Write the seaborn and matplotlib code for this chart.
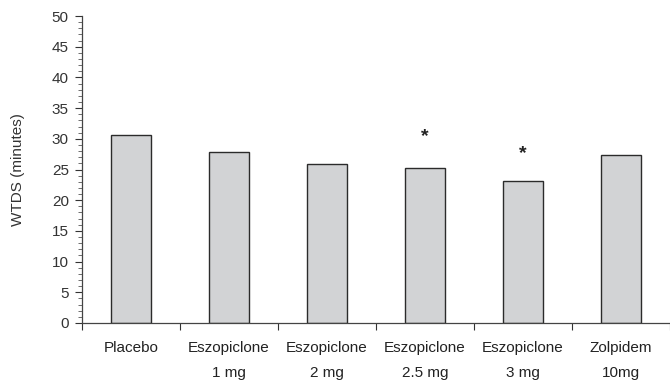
import numpy as np
import pandas as pd
import seaborn as sns
import matplotlib.pyplot as plt
from matplotlib.ticker import MultipleLocator

groups = ["Placebo\n", "Eszopiclone\n1 mg", "Eszopiclone\n2 mg", "Eszopiclone\n2.5 mg",
          "Eszopiclone\n3 mg", "Zolpidem\n10mg"]
wtds = [30.7, 27.9, 25.9, 25.2, 23.2, 27.3]
# asterisk marks (group index, height)
star_idx = [3, 4]
star_y = [30.3, 27.6]

sns.set_style("ticks")
plt.rcParams['font.family'] = ['Liberation Sans', 'DejaVu Sans']

df = pd.DataFrame({"group": groups, "wtds": wtds})

fig = plt.figure(figsize=(6.7, 3.85), dpi=100)
ax = fig.add_axes([82 / 670, 62 / 385, 588 / 670, 307 / 385])

sns.barplot(data=df, x="group", y="wtds", color="#d2d3d5", edgecolor="#2b2b2b",
            linewidth=1.0, width=0.41, saturation=1, ax=ax)

for i, y in zip(star_idx, star_y):
    ax.text(i, y, "*", ha="center", va="center", fontsize=14, fontweight="bold",
            color="#222222")

ax.set_ylim(0, 50)
ax.set_xlim(-0.5, 5.5)
ax.yaxis.set_major_locator(MultipleLocator(5))
ax.yaxis.set_minor_locator(MultipleLocator(1))
ax.tick_params(axis="y", which="major", length=5, width=0.8, labelsize=11, colors="#333333", pad=4.5)
ax.tick_params(axis="y", which="minor", length=3, width=0.6, colors="#555555")

# category boundaries carry the tick marks, labels sit at the centers
ax.set_xticks(np.arange(-0.5, 6.0, 1.0))
ax.set_xticklabels([])
ax.set_xticks(np.arange(6), minor=True)
ax.set_xticklabels(groups, minor=True, fontsize=11, linespacing=1.95, color="#222222")
ax.tick_params(axis="x", which="major", length=5, width=0.8, colors="#333333")
ax.tick_params(axis="x", which="minor", length=0, pad=13)

ax.set_xlabel("")
ax.set_ylabel("WTDS (minutes)", fontsize=11, color="#333333", labelpad=19)

sns.despine(ax=ax, top=True, right=True)
for sp in ["left", "bottom"]:
    ax.spines[sp].set_color("#444444")
    ax.spines[sp].set_linewidth(0.9)

fig.savefig("out.png", dpi=100)
